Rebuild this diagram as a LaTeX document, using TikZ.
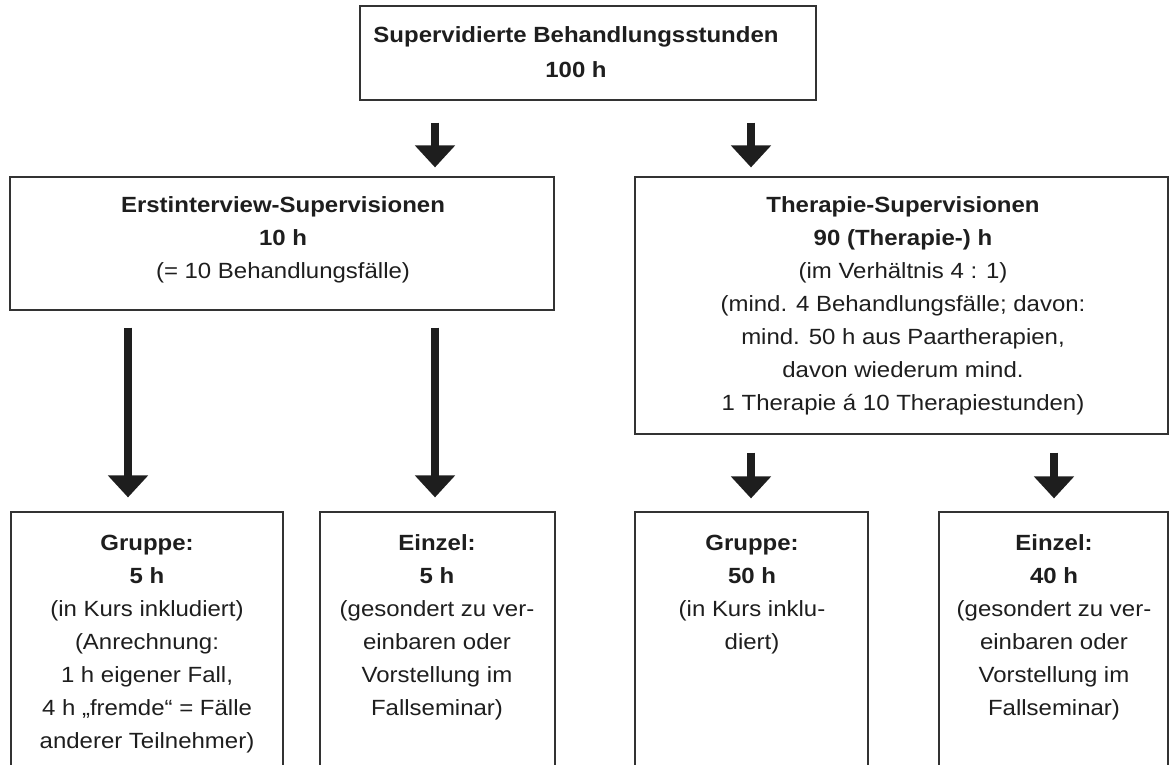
\documentclass[tikz,border=0pt]{standalone}
\usepackage{fontspec}
\setmainfont[FakeStretch=1.09]{Liberation Sans}
\usetikzlibrary{arrows.meta,fit,calc}
\definecolor{ink}{HTML}{1E1E1E}
\definecolor{frame}{HTML}{333333}
\begin{document}
\begin{tikzpicture}[x=0.5pt,y=-0.5pt,
  box/.style={draw=frame,line width=0.6pt,rectangle,inner sep=0pt},
  txt/.style={anchor=north,inner sep=0pt,align=center,text=ink,font=\fontsize{11}{16.5}\selectfont},
  toptxt/.style={txt,font=\fontsize{11}{17.5}\selectfont\bfseries},
  bigarrow/.style={draw=ink,line width=4pt,-{Triangle[width=19.5pt,length=11pt,fill=ink]}}]
\useasboundingbox (0,0) rectangle (1172,765);
\clip (0,0) rectangle (1172,765);
% boxes
\node[box,fit={(360,6) (816,100)}] (top) {};
\node[box,fit={(10,177) (554,310)}] (erst) {};
\node[box,fit={(635,177) (1168,434)}] (ther) {};
\node[box,fit={(11,512) (283,800)}] (g1) {};
\node[box,fit={(320,512) (555,800)}] (e1) {};
\node[box,fit={(635,512) (868,800)}] (g2) {};
\node[box,fit={(939,512) (1168,800)}] (e2) {};
% texts
\node[toptxt] (toptext) at (576,17.5) {\strut Supervidierte Behandlungsstunden\\100 h};
\node[txt] (ersttext) at (283,189) {\strut\textbf{Erstinterview-Supervisionen}\\\textbf{10 h}\\(= 10 Behandlungsfälle)};
\node[txt] (thertext) at (903,189) {\strut\textbf{Therapie-Supervisionen}\\\textbf{90 (Therapie-) h}\\(im Verhältnis 4 : 1)\\(mind. 4 Behandlungsfälle; davon:\\mind. 50 h aus Paartherapien,\\davon wiederum mind.\\1 Therapie á 10 Therapiestunden)};
\node[txt] (g1text) at (147,527) {\strut\textbf{Gruppe:}\\\textbf{5 h}\\(in Kurs inkludiert)\\(Anrechnung:\\1 h eigener Fall,\\4 h „fremde“ = Fälle\\anderer Teilnehmer)};
\node[txt] (e1text) at (437,527) {\strut\textbf{Einzel:}\\\textbf{5 h}\\(gesondert zu ver-\\einbaren oder\\Vorstellung im\\Fallseminar)};
\node[txt] (g2text) at (752,527) {\strut\textbf{Gruppe:}\\\textbf{50 h}\\(in Kurs inklu-\\diert)};
\node[txt] (e2text) at (1054,527) {\strut\textbf{Einzel:}\\\textbf{40 h}\\(gesondert zu ver-\\einbaren oder\\Vorstellung im\\Fallseminar)};
% arrow columns
\coordinate (xa) at (128,0);
\coordinate (xb) at (435,0);
\coordinate (xc) at (751,0);
\coordinate (xd) at (1054,0);
% arrows
\draw[bigarrow] ([yshift=-11pt]xb |- top.south) -- ([yshift=4.5pt]xb |- erst.north);
\draw[bigarrow] ([yshift=-11pt]xc |- top.south) -- ([yshift=4.5pt]xc |- ther.north);
\draw[bigarrow] ([yshift=-8.5pt]xa |- erst.south) -- ([yshift=7pt]xa |- g1.north);
\draw[bigarrow] ([yshift=-8.5pt]xb |- erst.south) -- ([yshift=7pt]xb |- e1.north);
\draw[bigarrow] ([yshift=-9pt]xc |- ther.south) -- ([yshift=6.5pt]xc |- g2.north);
\draw[bigarrow] ([yshift=-9pt]xd |- ther.south) -- ([yshift=6.5pt]xd |- e2.north);
\end{tikzpicture}
\end{document}
